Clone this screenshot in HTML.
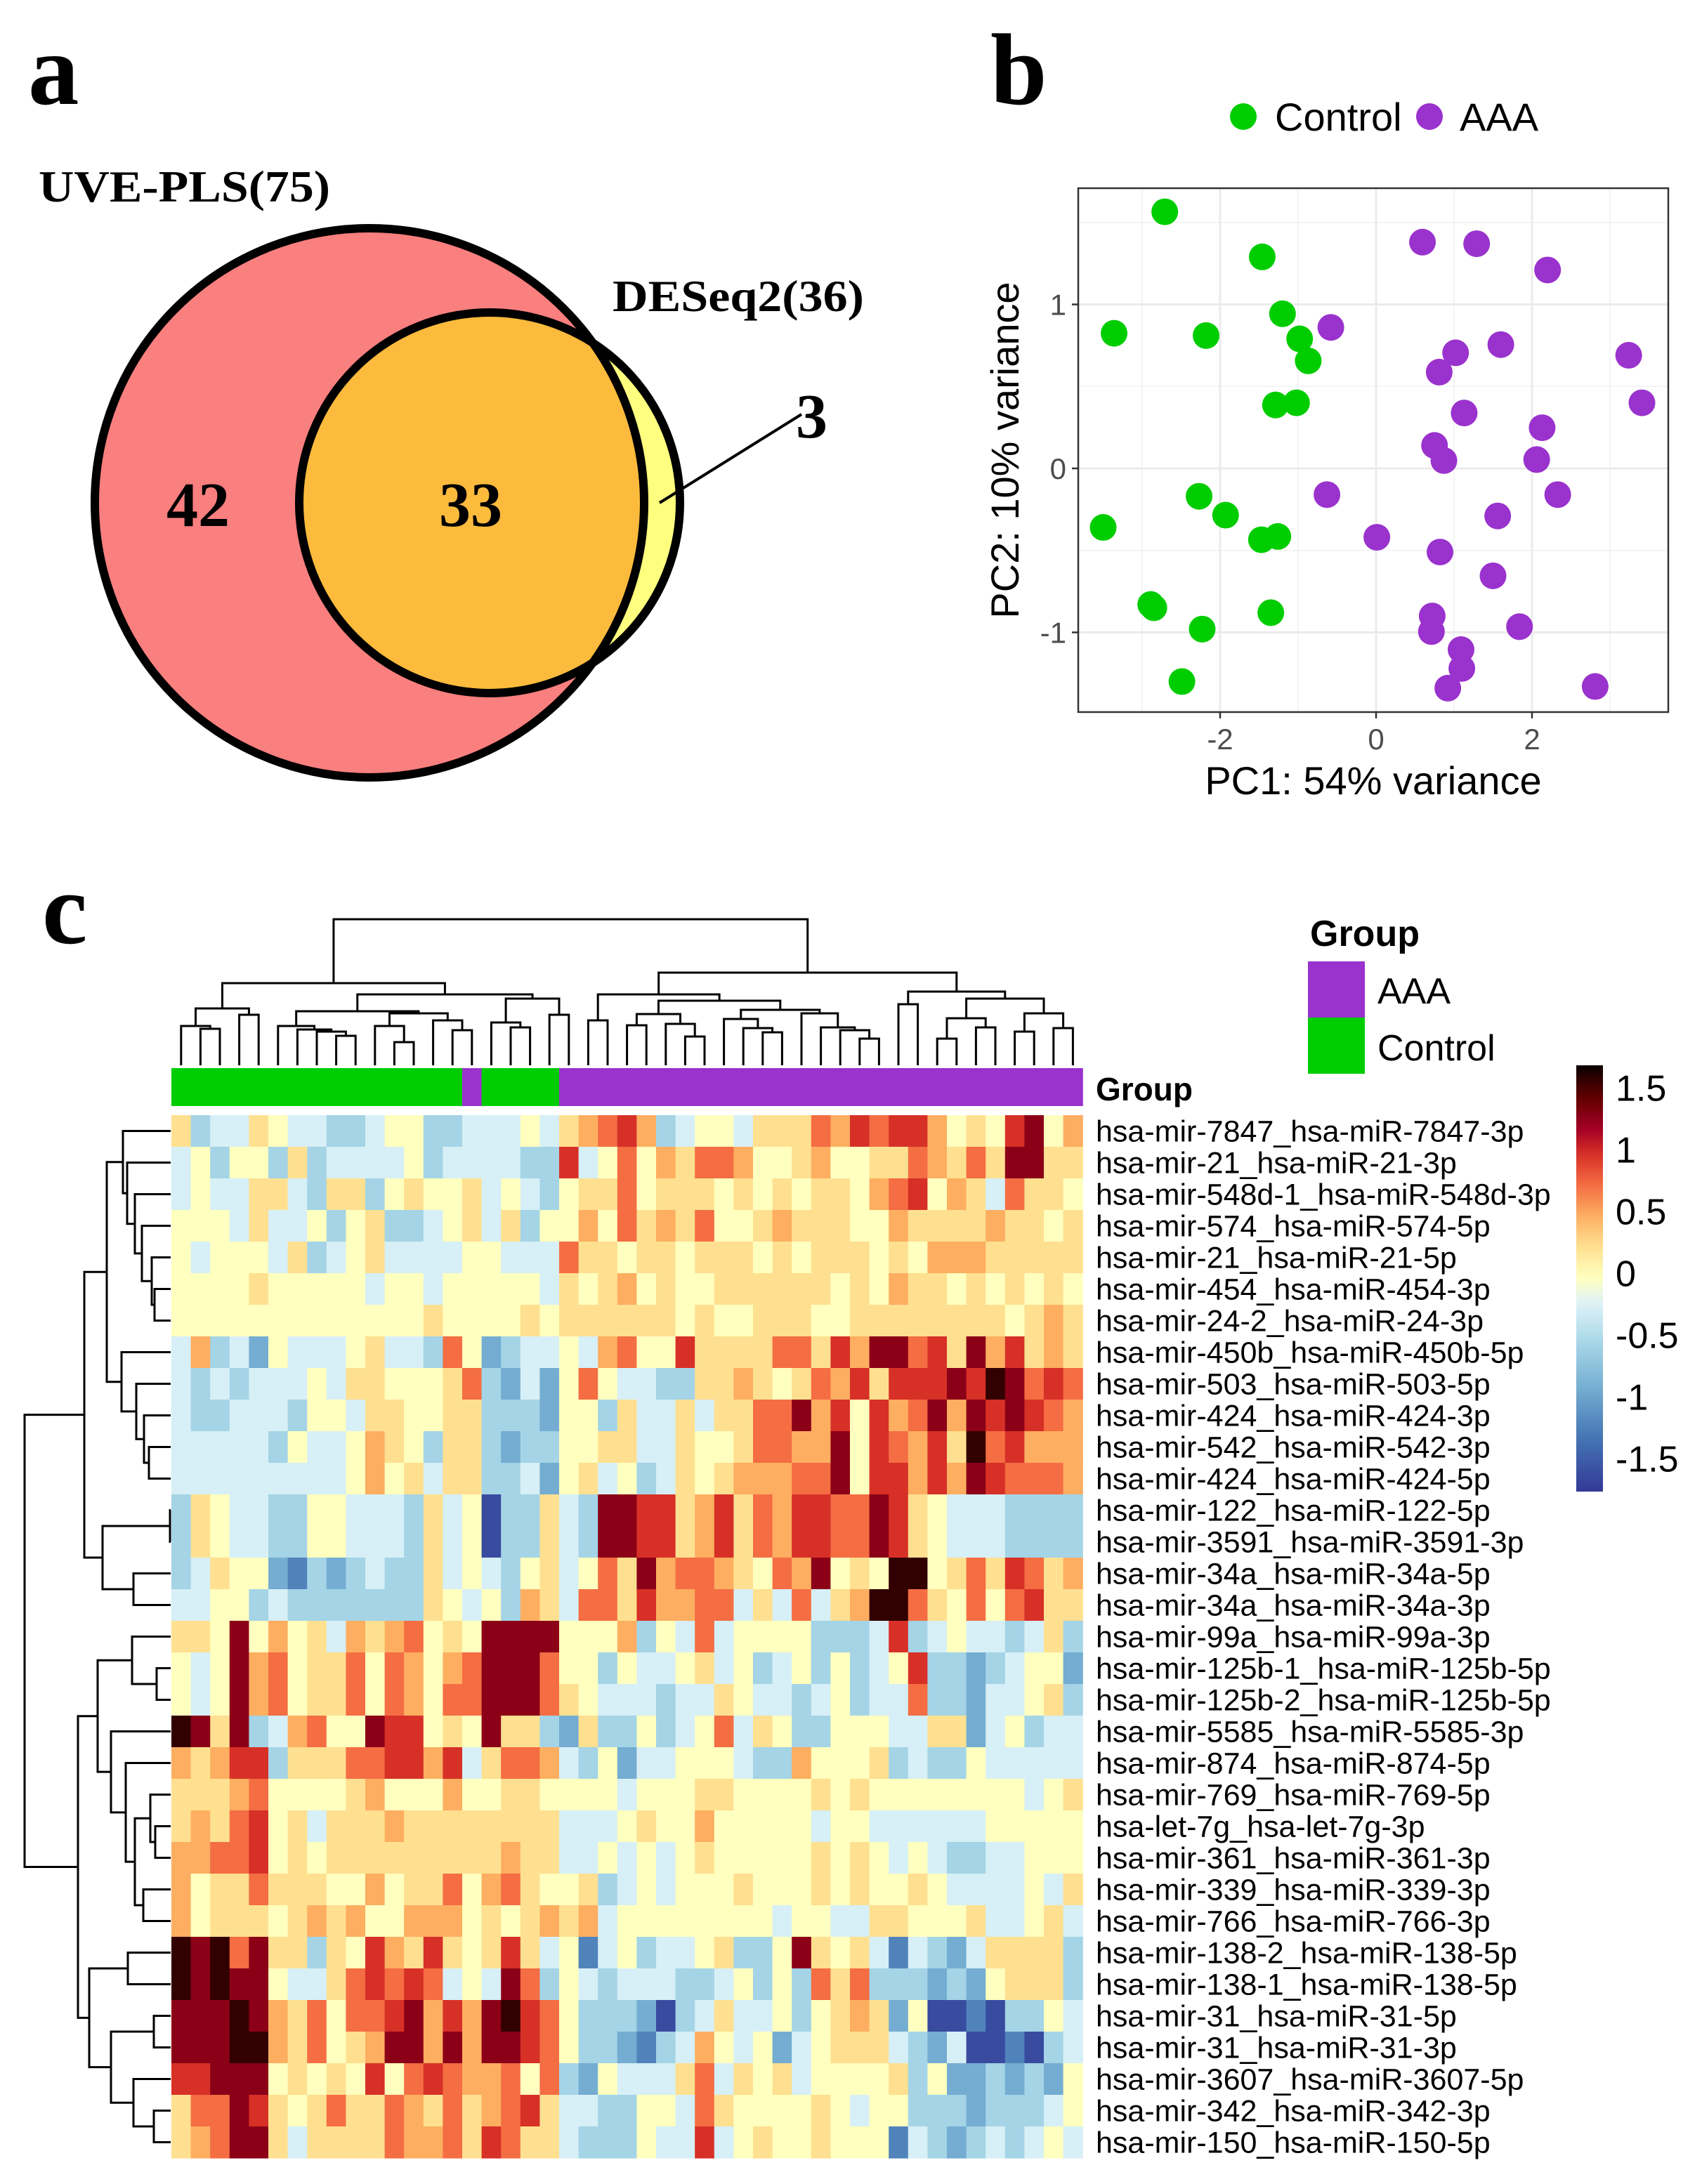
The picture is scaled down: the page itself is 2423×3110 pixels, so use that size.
<!DOCTYPE html>
<html><head><meta charset="utf-8"><style>
html,body{margin:0;padding:0;background:#fff;}
svg{display:block;}
.serif{font-family:"Liberation Serif",serif;font-weight:bold;}
.sans{font-family:"Liberation Sans",Arial,sans-serif;}
</style></head><body>
<svg id="fig" width="2423" height="3110" viewBox="0 0 2423 3110" xmlns="http://www.w3.org/2000/svg">
  <g>
    <text class="serif" x="40" y="148" font-size="145">a</text>
    <text class="serif" x="55" y="287" font-size="64" textLength="415" lengthAdjust="spacingAndGlyphs">UVE-PLS(75)</text>
    <circle cx="526" cy="716" r="391" fill="#fa7f7f"/>
    <clipPath id="outsideBig"><path d="M0,0H2423V3110H0Z M526,325 a391,391 0 1,0 0.01,0Z" clip-rule="evenodd"/></clipPath>
    <circle cx="697" cy="716" r="271" fill="#fcbb3d"/>
    <circle cx="697" cy="716" r="271" fill="#ffff7f" clip-path="url(#outsideBig)"/>
    <circle cx="526" cy="716" r="391" fill="none" stroke="#000" stroke-width="12"/>
    <circle cx="697" cy="716" r="271" fill="none" stroke="#000" stroke-width="12"/>
    <text class="serif" x="872" y="443" font-size="64" textLength="358" lengthAdjust="spacingAndGlyphs">DESeq2(36)</text>
    <text class="serif" x="237" y="749" font-size="90">42</text>
    <text class="serif" x="625" y="749" font-size="90">33</text>
    <text class="serif" x="1133" y="623" font-size="90">3</text>
    <line x1="939" y1="716" x2="1141" y2="590" stroke="#000" stroke-width="4"/>
  </g>

  <g id="pca">
    <text class="serif" x="1410" y="148" font-size="145">b</text>
    <circle cx="1770" cy="166" r="19" fill="#00cd00"/>
    <text class="sans" x="1815" y="186" font-size="56">Control</text>
    <circle cx="2035" cy="166" r="19" fill="#9a32cd"/>
    <text class="sans" x="2078" y="186" font-size="56">AAA</text>
    <g id="pcaGrid"></g>
    <g id="pcaPts"></g>
    <rect x="1535" y="268" width="840" height="746" fill="none" stroke="#333" stroke-width="2.5"/>
    <g id="pcaAxes"></g>
    <text class="sans" x="1955" y="1131" font-size="56" text-anchor="middle">PC1: 54% variance</text>
    <text class="sans" x="0" y="0" font-size="56" text-anchor="middle" transform="translate(1450,641) rotate(-90)">PC2: 10% variance</text>
  </g>

  <g id="heat">
    <text class="serif" x="60" y="1343" font-size="145">c</text>
    <g id="colDendro"></g>
    <g id="rowDendro"></g>
    <g id="groupBar"></g>
    <text class="sans" x="1560" y="1567" font-size="46" font-weight="bold">Group</text>
    <g id="cells"></g>
    <g id="rowLabels"></g>
    <text class="sans" x="1865" y="1347" font-size="52" font-weight="bold">Group</text>
    <rect x="1862" y="1369" width="81" height="80" fill="#9a32cd"/>
    <rect x="1862" y="1449" width="81" height="80" fill="#00cd00"/>
    <text class="sans" x="1961" y="1429" font-size="52">AAA</text>
    <text class="sans" x="1961" y="1510" font-size="52">Control</text>
    <defs><linearGradient id="cbGrad" x1="0" y1="0" x2="0" y2="1"></linearGradient></defs>
    <rect id="cbar" x="2244" y="1517" width="38" height="607"/>
    <g id="cbLabels"></g>
  </g>
</svg>
<script>
const NS="http://www.w3.org/2000/svg";
function mk(tag,attrs,parent){const e=document.createElementNS(NS,tag);for(const k in attrs)e.setAttribute(k,attrs[k]);parent.appendChild(e);return e;}

const controlPC1=[-2.71,-1.46,-3.36,-2.18,-1.20,-0.98,-0.87,-1.29,-1.02,-3.50,-2.27,-1.93,-1.47,-1.26,-2.89,-2.85,-1.35,-2.23,-2.49];
const controlPC2=[1.565,1.29,0.824,0.81,0.943,0.79,0.656,0.387,0.40,-0.36,-0.17,-0.285,-0.435,-0.415,-0.83,-0.85,-0.88,-0.98,-1.30];
const aaaPC1=[0.595,1.29,2.20,-0.58,1.02,0.81,1.60,3.24,3.41,1.13,2.13,0.75,0.87,2.06,2.33,-0.63,0.01,1.56,0.82,1.50,0.72,0.71,1.84,1.09,1.10,0.92,2.81];
const aaaPC2=[1.38,1.37,1.21,0.86,0.705,0.587,0.755,0.69,0.40,0.338,0.248,0.14,0.048,0.054,-0.16,-0.16,-0.42,-0.29,-0.51,-0.655,-0.90,-0.995,-0.965,-1.105,-1.22,-1.34,-1.33];
const xTicks=[-2,0,2];
const yTicks=[-1,0,1];

const X0=1959,XU=111,Y0=667,YU=233.5;
const sx=v=>X0+v*XU, sy=v=>Y0-v*YU;
const L=1535,R=2375,T=268,B=1014;
const grid=document.getElementById('pcaGrid');
mk('rect',{x:L,y:T,width:R-L,height:B-T,fill:'#fff'},grid);
for(let v=-3;v<=3;v+=2){const x=sx(v);if(x>L&&x<R){const ln=mk('line',{x1:x,x2:x,y1:T,y2:B,stroke:'#f2f2f2','stroke-width':1.5},grid);}}
for(let v=-1.5;v<=1.5;v+=1){const y=sy(v);if(y>T&&y<B){const ln=mk('line',{x1:L,x2:R,y1:y,y2:y,stroke:'#f2f2f2','stroke-width':1.5},grid);}}
const axes=document.getElementById('pcaAxes');
xTicks.forEach(v=>{const x=sx(v);
  const g=mk('line',{x1:x,x2:x,y1:T,y2:B,stroke:'#ebebeb','stroke-width':3},grid);
  const t=mk('line',{x1:x,x2:x,y1:B,y2:B+9,stroke:'#333','stroke-width':2.5},axes);
  const tx=mk('text',{x:x,y:1067,'font-size':42,'text-anchor':'middle',fill:'#4d4d4d',class:'sans'},axes);tx.textContent=String(v);});
yTicks.forEach(v=>{const y=sy(v);
  const g=mk('line',{x1:L,x2:R,y1:y,y2:y,stroke:'#ebebeb','stroke-width':3},grid);
  const t=mk('line',{x1:L-9,x2:L,y1:y,y2:y,stroke:'#333','stroke-width':2.5},axes);
  const tx=mk('text',{x:1518,y:y+15,'font-size':42,'text-anchor':'end',fill:'#4d4d4d',class:'sans'},axes);tx.textContent=String(v);});
const pts=document.getElementById('pcaPts');
controlPC1.forEach((v,i)=>{const c=mk('circle',{cx:sx(v),cy:sy(controlPC2[i]),r:19,fill:'#00cd00'},pts);});
aaaPC1.forEach((v,i)=>{const c=mk('circle',{cx:sx(v),cy:sy(aaaPC2[i]),r:19,fill:'#9a32cd'},pts);});

const rowNames=["hsa-mir-7847_hsa-miR-7847-3p","hsa-mir-21_hsa-miR-21-3p","hsa-mir-548d-1_hsa-miR-548d-3p","hsa-mir-574_hsa-miR-574-5p","hsa-mir-21_hsa-miR-21-5p","hsa-mir-454_hsa-miR-454-3p","hsa-mir-24-2_hsa-miR-24-3p","hsa-mir-450b_hsa-miR-450b-5p","hsa-mir-503_hsa-miR-503-5p","hsa-mir-424_hsa-miR-424-3p","hsa-mir-542_hsa-miR-542-3p","hsa-mir-424_hsa-miR-424-5p","hsa-mir-122_hsa-miR-122-5p","hsa-mir-3591_hsa-miR-3591-3p","hsa-mir-34a_hsa-miR-34a-5p","hsa-mir-34a_hsa-miR-34a-3p","hsa-mir-99a_hsa-miR-99a-3p","hsa-mir-125b-1_hsa-miR-125b-5p","hsa-mir-125b-2_hsa-miR-125b-5p","hsa-mir-5585_hsa-miR-5585-3p","hsa-mir-874_hsa-miR-874-5p","hsa-mir-769_hsa-miR-769-5p","hsa-let-7g_hsa-let-7g-3p","hsa-mir-361_hsa-miR-361-3p","hsa-mir-339_hsa-miR-339-3p","hsa-mir-766_hsa-miR-766-3p","hsa-mir-138-2_hsa-miR-138-5p","hsa-mir-138-1_hsa-miR-138-5p","hsa-mir-31_hsa-miR-31-5p","hsa-mir-31_hsa-miR-31-3p","hsa-mir-3607_hsa-miR-3607-5p","hsa-mir-342_hsa-miR-342-3p","hsa-mir-150_hsa-miR-150-5p"];
const colGroups=[0,0,0,0,0,0,0,0,0,0,0,0,0,0,0,1,0,0,0,0,1,1,1,1,1,1,1,1,1,1,1,1,1,1,1,1,1,1,1,1,1,1,1,1,1,1,1];
const levelValues={A:-1.6,B:-1.2,C:-0.9,D:-0.55,E:-0.25,F:0,G:0.25,H:0.5,I:0.75,J:1.0,K:1.3,L:1.6};
const zRows=[
"GDEEGFEEDDEFFDDEEEFEGHIJHDEFFEGGGIHJIJJHFGFJKFH",
"EFDFFDGDEEEEFDEEEEDDJEFIFHGIIHFFGHFFGGIHGIGKKGG",
"EFEEGGEDGGDFGFFGEFEDFGGIFGGGFGFGFGGFHIJFHGEIGGF",
"FFFEGEEFDFGDDEFGEGDFFHFIGHGIFFGHGGGFFHGGGGHGGFG",
"FEFFFEGDEFGEEEEFFEEEIGGFGGFGGGFGFGGGFGFHHHGGGGG",
"FFFFGFFFFFEFFEFFFFFEGFGHFGFFGGGGGGFGFHGGFGFGFGF",
"FFFFFFFFFFFFFGFFFFGFGGGGGGFGFFGGGFFGGGGGGGGFGHG",
"EHDECFEEEFGEEDIFCDEEFEHIFFJGGGGIIGJHKKIJGKHJGHG",
"EDEDEEEFEGGFFFGIDCECFIFEEDDGGHGFGIHJGJJJKJLKIJI",
"EDDEEEDFFEGGFFGGDDDCFFDGEEGEGGIIKHJFJHIKHKJKJIH",
"EEEEEDFEEFHGFDGGDCDDFFGGEEGFFGIIHHKFJIHJGLIJHHH",
"EEEEEEEEEFHFGEGGDDECFGEFDEGFGHHHIIKFJJHJHKJIIIH",
"DGFEEDDFFEEEDGEFADDGEDKKJJGHJGIHJJIIKJGFEEEDDDD",
"DGFEEDDFFEEEDGEFADDGEDKKJJGHJGIHJJIIKJGFEEEDDDD",
"DEGFFCBDCDEDDGEFEDFGEFIGKHIIHGFIHKFGFLLFGIGJIGH",
"EEFFDEDDDDDDDGFEFDHGEIIGJHHIIEGEIEGHLLIGFIFIJGG",
"GGFKFHFGEHGHIFGFKKKKFFFHDFEIEFFFFDDDEJDEFEEDEGD",
"FEFKHIFGGIFIHFHIKKKIFFDFEEFGEFDEFDFDEFJDDCDEFFC",
"FEFKHIFGGIFIHFIIKKKIGFEEEDEEGFEEDEFDEEIDDCEEFGD",
"LKGKDEHIFFKJJFGFKGGDCGDDFDEFIEGFDDFFFEEGGCEFDEE",
"HGHJJDGGGIIJJHJEGIIHEDFCEEFFFEDDHFFFGDEDDFEEEEE",
"GGGHIFFFFGHFFFHFFGGFFFFEFFFGGFFFFGFGFFFFFFFFEFG",
"GHGIJFGEGGGHGGGGGGGGEEEFGFFHFFFFFEFFEEEEEEFFFFF",
"HHIIJFGFGGGGGGGGGHGGEEFEFEFGFFFFFGFGFEFEDDEEFFF",
"HFGGIGGGFFHFGGIFHIGFFGDEFEFFFGFFFGFGFFGFEEEEFEG",
"HFGGGFGHGHFFHHHFGFGHGHEFFFFFFFFEFFEEGGFFFGEEFGE",
"LKLIKGGDGFJHGJGFGJGEFBEFDEEFGDDFKGFGEBEDCEGGGGD",
"LKLKKFEEGIJIJIEFEKIDFEDEEEDDEFDFDIGIDDDCDCFGGGD",
"KKKLKHGIFIIJKHJHKLJIFDDDCADEGEEFDFGHGCFAABADDFE",
"KKKLLHGIFGHKKHKHKKJIFDDCBDEHFEFCEFGGGEDCEAABADE",
"JJKKKFGFGFJFIJIHHIFIDCFEEEGIEGFGEFFFFGDFCCDCDCF",
"GIIKJGFGIGGIHGIGHIJGEEDDFFEIGFFFFGFEFFDDDCDDDEF",
"GHIKKGEGGGGIHHIGJIGGEDDDFEEJEFGFFGFFFBEDCDEDEFE"];
const scaleTicks=[1.5,1,0.5,0,-0.5,-1,-1.5];

const stops=[[-1.75,[49,54,149]],[-1.3,[69,117,180]],[-0.9,[116,173,209]],[-0.5,[171,217,233]],[-0.2,[224,243,248]],[0,[255,255,191]],[0.25,[254,224,144]],[0.5,[253,174,97]],[0.75,[244,109,67]],[1.0,[215,48,39]],[1.2,[165,0,38]],[1.45,[100,0,0]],[1.75,[0,0,0]]];
function colorOf(v){if(v<=stops[0][0])return 'rgb('+stops[0][1]+')';for(let i=1;i<stops.length;i++){if(v<=stops[i][0]){const a=stops[i-1],b=stops[i],t=(v-a[0])/(b[0]-a[0]);return 'rgb('+a[1].map((c,k)=>Math.round(c+(b[1][k]-c)*t)).join(',')+')';}}return 'rgb(0,0,0)';}

const HX=244,CW=27.6,HY=1588,RH=45;
const cx=j=>HX+j*CW, ry=i=>HY+i*RH;
const cells=document.getElementById('cells');
zRows.forEach((row,i)=>{for(let j=0;j<colGroups.length;j++){const ch=row[j]||'F';
  const r=mk('rect',{x:cx(j).toFixed(2),y:ry(i),width:(CW+0.6).toFixed(2),height:RH+0.6,fill:colorOf(levelValues[ch])},cells);
  
  }});
const gb=document.getElementById('groupBar');
colGroups.forEach((g,j)=>{const r=mk('rect',{x:cx(j).toFixed(2),y:1521,width:(CW+0.6).toFixed(2),height:54,fill:g?'#9a32cd':'#00cd00'},gb);
  
  });
const rl=document.getElementById('rowLabels');
rowNames.forEach((n,i)=>{const t=mk('text',{x:1560,y:ry(i)+RH/2+15,'font-size':43,class:'sans'},rl);t.textContent=n;
  
  });

const grad=document.getElementById('cbGrad');
const cbTop=1517,cbBot=2124,vTop=1.72,vBot=-1.73;
for(let k=0;k<=40;k++){const v=vTop+(vBot-vTop)*k/40;mk('stop',{offset:(k/40).toFixed(3),'stop-color':colorOf(v)},grad);}
document.getElementById('cbar').setAttribute('fill','url(#cbGrad)');
const cbl=document.getElementById('cbLabels');
const vy=v=>cbTop+(vTop-v)/(vTop-vBot)*(cbBot-cbTop);
scaleTicks.forEach(v=>{const t=mk('text',{x:2300,y:vy(v)+12,'font-size':52,class:'sans'},cbl);t.textContent=String(v);
  
  });

const colTree=[1309,
 [1400,[1436,[1461,0,[1465,1,2]],[1445,3,4]],
       [1416,[1440,[1461,5,[1466,6,[1469,7,[1475,8,9]]]],[1443,[1461,10,[1484,11,12]],[1453,13,[1467,14,15]]]],
             [1422,[1456,16,[1463,17,18]],[1445,19,20]]]],
 [1385,[1416,[1453,21,22],[1425,[1444,[1460,23,24],[1458,25,[1476,26,27]]],[1438,[1451,28,[1464,29,[1470,30,31]]],[1443,32,[1463,33,[1467,34,[1479,35,36]]]]]]],
       [1412,[1430,37,38],[1422,[1450,[1479,39,40],[1463,41,42]],[1443,[1469,43,44],[1464,45,46]]]]]];
const rowTree=[35,
 [120,[152,[175,0,[181,1,[192,2,[202,3,[216,4,[220,5,6]]]]]],[173,7,[194,8,[205,9,[212,10,11]]]]],[146,[242,12,13],[190,14,15]]],
 [111,[139,[188,16,[223,17,18]],[158,19,[179,20,[192,[214,21,[221,22,23]],[204,24,25]]]]],[127,[182,26,27],[158,[219,28,29],[190,30,[219,31,32]]]]]];

const cd=document.getElementById('colDendro');
function drawCol(n){if(typeof n==='number')return {x:cx(n)+CW/2,y:1517};
  const a=drawCol(n[1]),b=drawCol(n[2]),h=n[0];
  const p=mk('path',{d:`M${a.x},${a.y}V${h}H${b.x}V${b.y}`,fill:'none',stroke:'#000','stroke-width':3},cd);
  
  
  return {x:(a.x+b.x)/2,y:h};}
drawCol(colTree);
const rd=document.getElementById('rowDendro');
function drawRow(n){if(typeof n==='number')return {x:243,y:ry(n)+RH/2};
  const a=drawRow(n[1]),b=drawRow(n[2]),h=n[0];
  const p=mk('path',{d:`M${a.x},${a.y}H${h}V${b.y}H${b.x}`,fill:'none',stroke:'#000','stroke-width':3},rd);
  
  
  return {x:h,y:(a.y+b.y)/2};}
drawRow(rowTree);
</script>
</body></html>
